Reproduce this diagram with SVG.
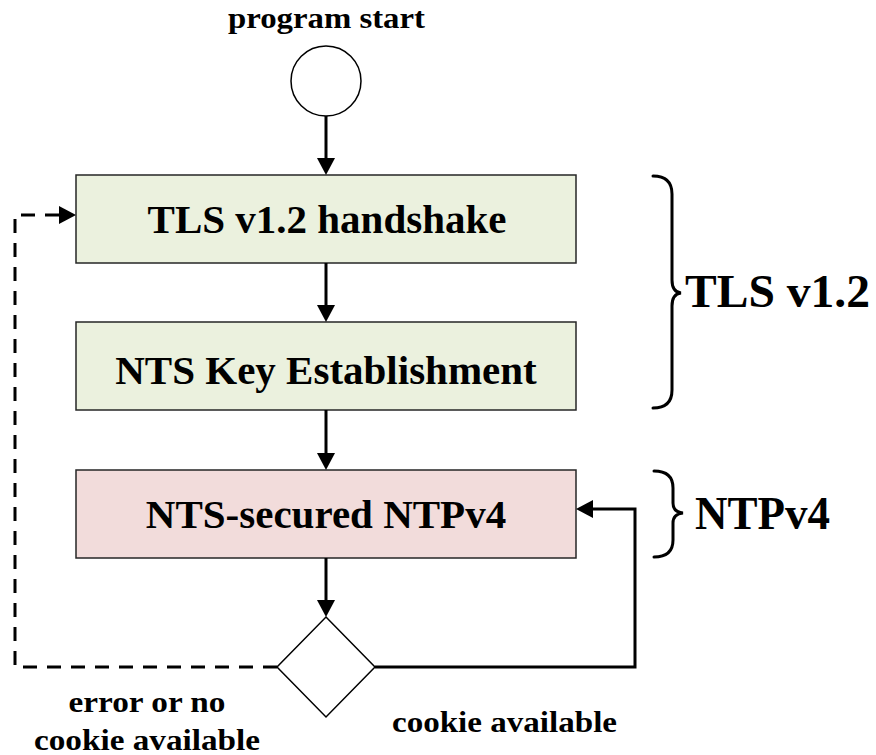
<svg xmlns="http://www.w3.org/2000/svg" width="876" height="755" viewBox="0 0 876 755">
<style>
  text { font-family: "Liberation Serif", "Times New Roman", serif; font-weight: bold; fill: #000; }
  .box { stroke: #262626; stroke-width: 1.5; }
  .green { fill: #ebf1de; }
  .pink { fill: #f2dcdb; }
  .shape { fill: #fff; stroke: #000; stroke-width: 1.5; }
  .conn { fill: none; stroke: #000; stroke-width: 3; }
  .dash { stroke-dasharray: 14 10; }
  .brace { fill: none; stroke: #000; stroke-width: 3; stroke-linecap: round; }
  .big { font-size: 41px; }
  .small { font-size: 29px; }
  .side { font-size: 47px; }
</style>
<defs>
  <marker id="arrow" markerUnits="userSpaceOnUse" markerWidth="18" markerHeight="18" refX="1" refY="9" orient="auto" viewBox="0 0 18 18">
    <path d="M0,0 L17,9 L0,18 Z" fill="#000"/>
  </marker>
</defs>

<g id="start">
  <text class="small" x="326.5" y="28" text-anchor="middle" textLength="197" lengthAdjust="spacingAndGlyphs">program start</text>
  <circle class="shape" cx="326" cy="81" r="35"/>
</g>

<g id="tls-handshake">
  <rect class="box green" x="76" y="175" width="500" height="88"/>
  <text class="big" x="327" y="233" text-anchor="middle">TLS v1.2 handshake</text>
</g>

<g id="nts-ke">
  <rect class="box green" x="76" y="322" width="500" height="88"/>
  <text class="big" x="326" y="384" text-anchor="middle">NTS Key Establishment</text>
</g>

<g id="ntpv4">
  <rect class="box pink" x="76" y="470" width="500" height="88"/>
  <text class="big" x="326" y="528" text-anchor="middle">NTS-secured NTPv4</text>
</g>

<g id="decision">
  <polygon class="shape" points="326,617 375,667 326,717 277,667"/>
</g>

<g id="connectors">
  <path class="conn" d="M326,116 L326,159" marker-end="url(#arrow)"/>
  <path class="conn" d="M326,263 L326,306" marker-end="url(#arrow)"/>
  <path class="conn" d="M326,410 L326,454" marker-end="url(#arrow)"/>
  <path class="conn" d="M326,558 L326,601" marker-end="url(#arrow)"/>
  <path class="conn dash" d="M277,667 L15,667 L15,215 L60,215" marker-end="url(#arrow)"/>
  <path class="conn" d="M375,667 L635,667 L635,509 L592,509" marker-end="url(#arrow)"/>
</g>

<g id="labels">
  <text class="small" x="147" y="712" text-anchor="middle" textLength="157" lengthAdjust="spacingAndGlyphs">error or no</text>
  <text class="small" x="147" y="750" text-anchor="middle" textLength="226" lengthAdjust="spacingAndGlyphs">cookie available</text>
  <text class="small" x="504.5" y="732" text-anchor="middle" textLength="225" lengthAdjust="spacingAndGlyphs">cookie available</text>
</g>

<g id="brace-tls">
  <path class="brace" d="M653,176 Q672,176 672,194 L672,280 Q672,292 681,293 Q672,294 672,306 L672,390 Q672,408 653,408"/>
  <text class="side" x="685" y="307" textLength="185" lengthAdjust="spacingAndGlyphs">TLS v1.2</text>
</g>

<g id="brace-ntp">
  <path class="brace" d="M654,471 Q673,471 673,488 L673,503 Q673,512 683,513 Q673,514 673,523 L673,540 Q673,557 654,557"/>
  <text class="side" x="695" y="529" textLength="135" lengthAdjust="spacingAndGlyphs">NTPv4</text>
</g>
</svg>
